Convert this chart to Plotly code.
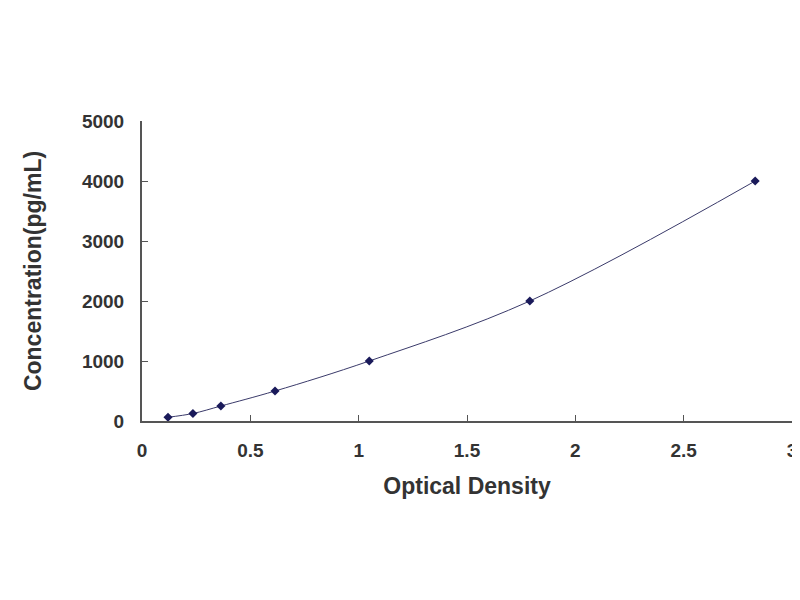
import plotly.graph_objects as go

# standard curve readings
od = [0.12, 0.235, 0.364, 0.614, 1.049, 1.79, 2.83]
conc = [62.5, 125, 250, 500, 1000, 2000, 4000]

x_ticks = [0, 0.5, 1, 1.5, 2, 2.5, 3]
x_tick_text = ["0", "0.5", "1", "1.5", "2", "2.5", "3"]
y_ticks = [0, 1000, 2000, 3000, 4000, 5000]

fig = go.Figure()

fig.add_trace(go.Scatter(
    x=od, y=conc,
    mode="lines+markers",
    line=dict(color="#3a3a6a", width=1, shape="spline", smoothing=1),
    marker=dict(symbol="diamond", size=7, color="#1a1a5a"),
    showlegend=False,
))

axis_font = dict(family="Liberation Sans, Arial", size=19, color="#333333", weight="bold")
title_font = dict(family="Liberation Sans, Arial", size=23, color="#333333", weight="bold")

fig.update_layout(
    width=800, height=600,
    # page body adds ~8px offset, margins compensate for it
    margin=dict(l=134, r=16, t=113, b=187),
    paper_bgcolor="white", plot_bgcolor="white",
    font=axis_font,
    xaxis=dict(
        range=[0, 3], tickvals=x_ticks, ticktext=x_tick_text,
        showgrid=False, zeroline=False,
        showline=True, linecolor="#555555", linewidth=2,
        ticks="inside", ticklen=6, tickcolor="#555555", tickwidth=1,
        tickfont=axis_font, ticklabelstandoff=11,
        title=dict(text="Optical Density", font=title_font, standoff=18),
        automargin=False,
    ),
    yaxis=dict(
        range=[0, 5000], tickvals=y_ticks,
        showgrid=False, zeroline=False,
        showline=True, linecolor="#555555", linewidth=2,
        ticks="inside", ticklen=6, tickcolor="#555555", tickwidth=1,
        tickfont=axis_font, ticklabelstandoff=12,
        title=dict(text="Concentration(pg/mL)", font=title_font, standoff=34),
        automargin=False,
    ),
)

fig.write_html("out.html")
